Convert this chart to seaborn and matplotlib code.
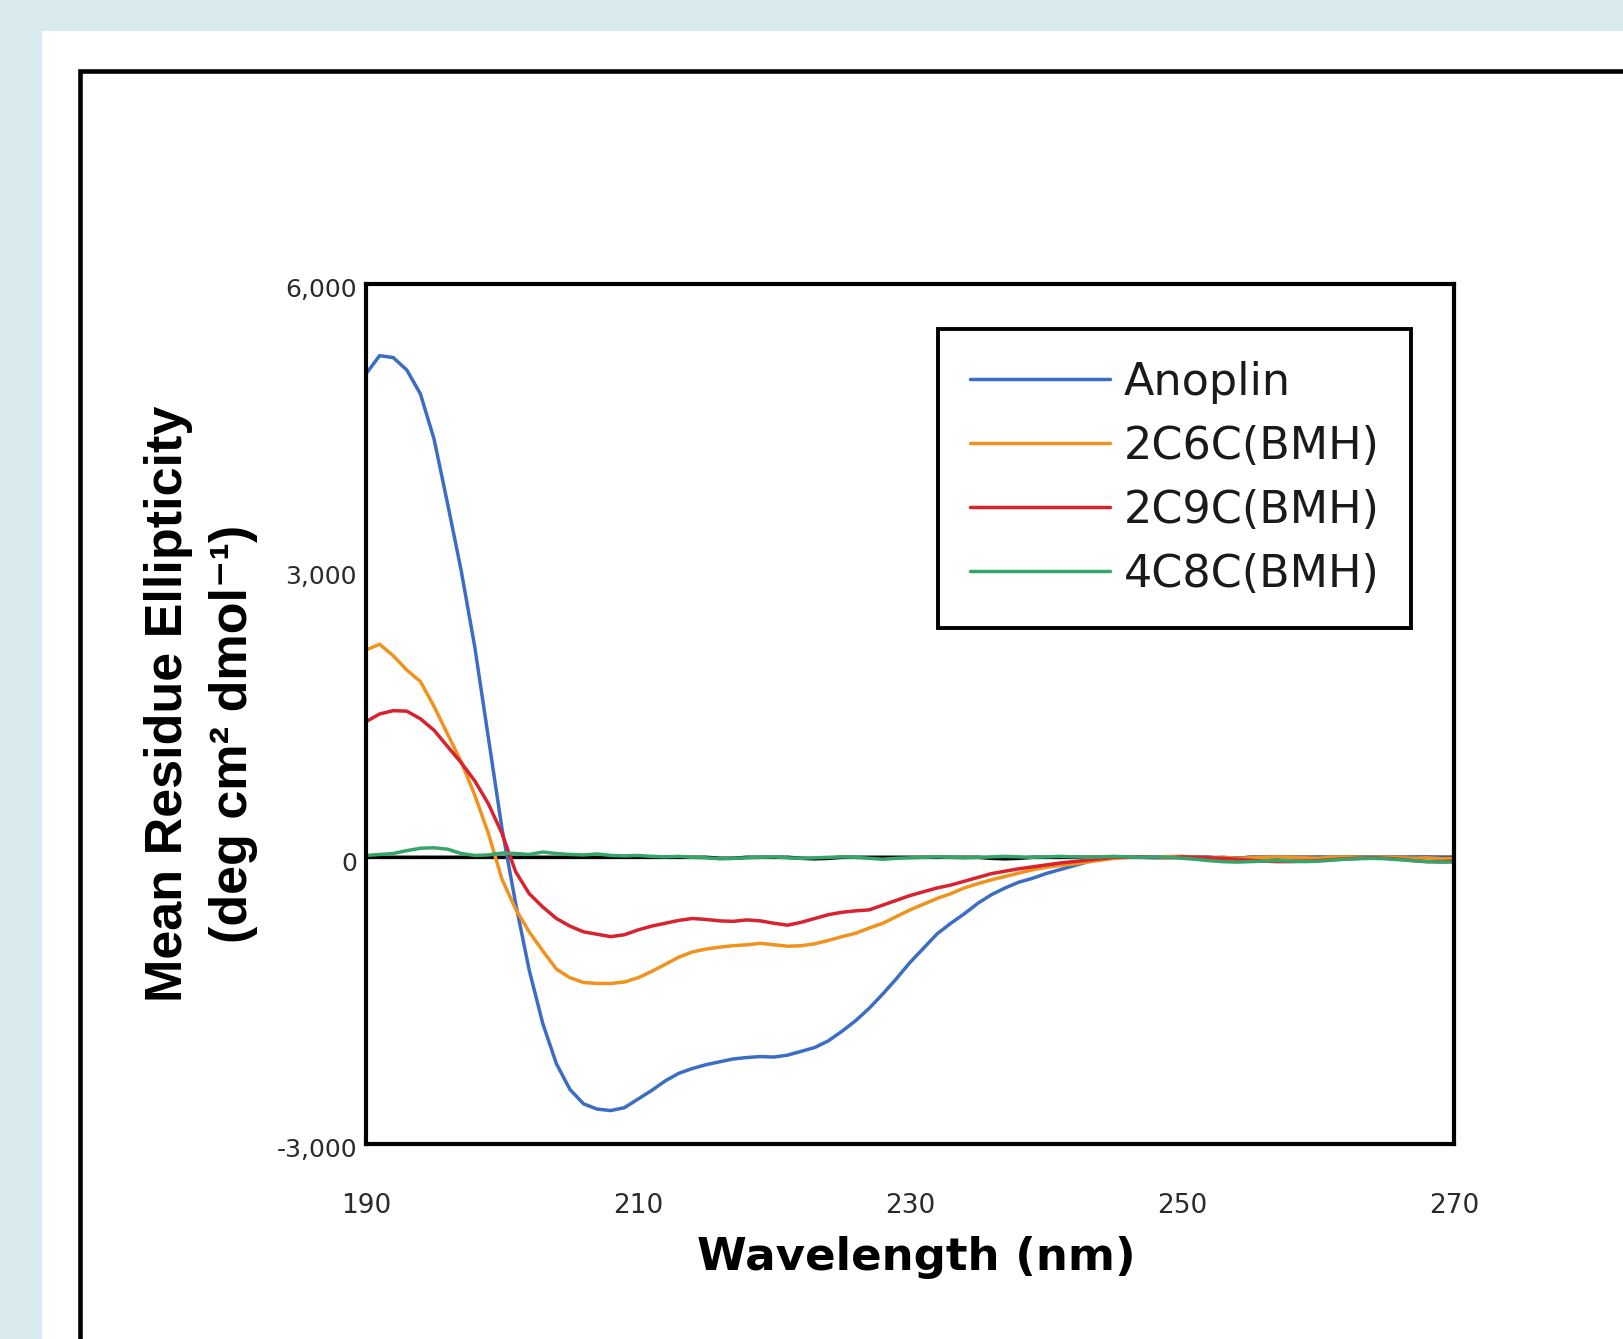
import matplotlib
matplotlib.use("Agg")
import matplotlib.pyplot as plt
import matplotlib.transforms as mtransforms
from matplotlib.patches import Rectangle
from matplotlib.ticker import FuncFormatter
import seaborn as sns
import pandas as pd

# wavelength grid (nm) and mean residue ellipticity
wavelength = list(range(190, 271))

anoplin = [5060, 5250, 5230, 5100, 4850, 4380, 3700, 3000, 2200, 1250,
           300, -480, -1180, -1740, -2160, -2430, -2580, -2635, -2650, -2620,
           -2530, -2440, -2340, -2260, -2210, -2170, -2140, -2110, -2095, -2085,
           -2090, -2070, -2030, -1990, -1920, -1820, -1710, -1580, -1430, -1270,
           -1100, -950, -800, -690, -590, -480, -390, -320, -260, -220,
           -170, -130, -90, -50, -15, 0, 5, 0, -5, 5,
           10, 0, -5, 0, -10, -5, 0, 5, -5, -10,
           0, -5, 5, 0, -5, -10, -5, 0, 5, -5,
           -10]

c2c6c = [2170, 2230, 2110, 1960, 1840, 1580, 1290, 1000, 650, 250,
         -230, -540, -780, -980, -1170, -1260, -1310, -1320, -1320, -1305,
         -1260, -1195, -1120, -1045, -990, -960, -940, -925, -915, -900,
         -915, -930, -925, -905, -870, -830, -795, -740, -690, -620,
         -550, -490, -430, -380, -320, -275, -235, -200, -165, -130,
         -105, -85, -70, -50, -30, -10, 0, 5, 0, 10,
         5, 0, -5, 0, -10, -5, 0, 5, 0, -5,
         -10, 0, 5, 0, -5, 0, -5, -10, -5, -15,
         -10]

c2c9c = [1420, 1500, 1535, 1530, 1450, 1330, 1160, 990, 800, 560,
         250, -150, -380, -520, -640, -720, -780, -805, -830, -810,
         -760, -720, -690, -660, -640, -650, -665, -670, -655, -665,
         -690, -710, -680, -640, -600, -575, -560, -550, -500, -450,
         -400, -360, -320, -290, -250, -210, -170, -145, -120, -100,
         -80, -60, -45, -30, -15, 0, 0, 5, 0, -5,
         5, 0, -5, -10, -20, -30, -40, -45, -45, -40,
         -35, -25, -15, -10, -5, -10, -20, -35, -45, -45,
         -40]

c4c8c = [20, 30, 40, 70, 95, 100, 85, 40, 20, 25,
         45, 40, 30, 55, 40, 30, 25, 35, 20, 15,
         20, 10, 5, 10, 0, -5, -15, -10, -5, 0,
         5, -5, -10, -5, 0, 5, 0, -10, -20, -10,
         -5, 0, 5, 0, -5, 0, 5, 10, 5, 0,
         5, 10, 5, 0, 5, 10, 5, 0, 5, 0,
         -10, -20, -35, -45, -50, -45, -40, -35, -40, -45,
         -40, -30, -20, -15, -10, -15, -25, -35, -45, -50,
         -50]

baseline = [0, 0, 0, 0, 0, 0, 0, 0, 0, 0,
            0, 0, 0, 0, 0, 0, 0, 0, 0, 0,
            0, 0, 0, 0, 0, 0, -10, -10, 0, 0,
            0, 0, -10, -15, -10, 0, 0, 0, 0, 0,
            0, 0, 0, 0, 0, 0, -10, -15, -10, 0,
            0, 0, 0, 0, 0, 0, 0, 0, 0, 0,
            0, 0, 0, -10, -10, 0, 0, 0, 0, 0,
            0, 0, 0, 0, 0, 0, 0, 0, 0, 0,
            0]

samples = ["Anoplin", "2C6C(BMH)", "2C9C(BMH)", "4C8C(BMH)"]
colors = ["#3C6DC5", "#F0921F", "#D8232F", "#35A56B"]
x_ticks = [190, 210, 230, 250, 270]
y_ticks = [-3000, 0, 3000, 6000]

df = pd.concat([
    pd.DataFrame({"Wavelength (nm)": wavelength, "MRE": vals, "Sample": name})
    for name, vals in zip(samples, [anoplin, c2c6c, c2c9c, c4c8c])
], ignore_index=True)
df_base = pd.DataFrame({"Wavelength (nm)": wavelength, "MRE": baseline})

sns.set_theme(style="white")
plt.rcParams["font.family"] = ["DejaVu Sans"]

fig = plt.figure(figsize=(16.24, 13.39), dpi=100)
fig.patch.set_facecolor("#DAEBEF")
W, H = 1624, 1339
# white panel and the black frame behind the plot
fig.add_artist(Rectangle((42 / W, -0.1), 1.2, 1.1 - 31 / H, transform=fig.transFigure,
                         facecolor="white", edgecolor="none", zorder=-2))
fig.add_artist(Rectangle((80.5 / W, -0.1), 1.2, 1.1 - 70.5 / H, transform=fig.transFigure,
                         facecolor="none", edgecolor="black", lw=3.3, zorder=-1))

ax = fig.add_axes([366 / W, 1 - 1144 / H, 1088 / W, 860 / H])
ax.set_facecolor("white")

sns.lineplot(data=df_base, x="Wavelength (nm)", y="MRE", color="black", lw=2.6,
             legend=False, ax=ax)
sns.lineplot(data=df, x="Wavelength (nm)", y="MRE", hue="Sample", hue_order=samples,
             palette=dict(zip(samples, colors)), estimator=None, lw=2.5, ax=ax)

ax.set_xlim(190, 270)
ax.set_ylim(-3000, 6000)
ax.set_xticks(x_ticks)
ax.set_yticks(y_ticks)
ax.yaxis.set_major_formatter(FuncFormatter(lambda v, p: f"{int(v):,}"))
ax.tick_params(axis="both", length=0, colors="#2b2b2b")
ax.tick_params(axis="x", labelsize=19, pad=35)
ax.tick_params(axis="y", labelsize=18, pad=6.5)
offset = mtransforms.ScaledTranslation(0, -4 / 100, fig.dpi_scale_trans)
for lab in ax.get_yticklabels():
    lab.set_transform(lab.get_transform() + offset)

for sp in ax.spines.values():
    sp.set_visible(True)
    sp.set_color("black")
    sp.set_linewidth(3)

ax.set_xlabel("Wavelength (nm)", fontsize=32.5, fontweight="bold", va="center",
              color="black")
ax.xaxis.set_label_coords(0.5055, -0.1314)

ylab_font = ["Liberation Sans", "DejaVu Sans"]
ax.set_ylabel("Mean Residue Ellipticity", fontsize=37.5, fontweight="bold",
              va="center", color="black", family=ylab_font)
ax.yaxis.set_label_coords(-0.1812, 0.5116)
ax.text(-0.1222, 0.4764, "(deg cm² dmol⁻¹)", transform=ax.transAxes, rotation=90,
        ha="center", va="center", fontsize=37.5, fontweight="bold", color="black",
        family=ylab_font)

handles, labels = ax.get_legend_handles_labels()
leg = ax.legend(handles, labels, loc="upper left", bbox_to_anchor=(0.526, 0.9477),
                borderaxespad=0, frameon=True, fancybox=False, framealpha=1,
                edgecolor="black", fontsize=32, handlelength=3.15, handletextpad=0.3,
                labelspacing=0.47, borderpad=0.72)
leg.get_frame().set_linewidth(2.8)
for t in leg.get_texts():
    t.set_color("#1a1a1a")

fig.savefig("out.png", dpi=100, facecolor=fig.get_facecolor())
